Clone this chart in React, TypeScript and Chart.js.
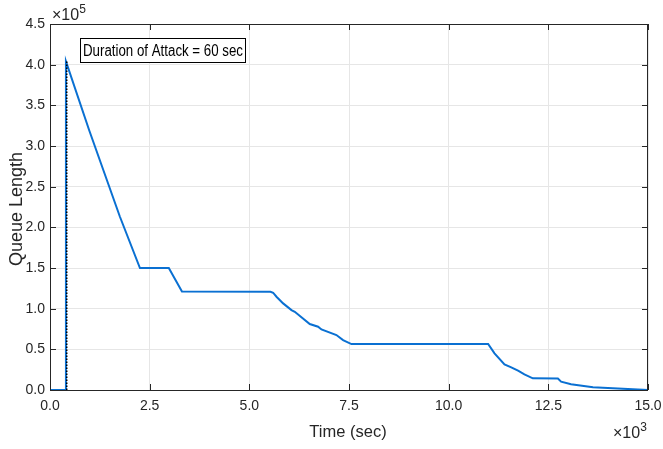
import React, { useEffect, useRef } from 'react';
import { Chart, registerables } from 'chart.js';

Chart.register(...registerables);

// Time (sec) and queue length
const timeSec = [0, 400, 400, 985, 1754, 2256, 2980, 3310, 5531, 5597, 5681, 5848, 6057, 6140, 6516, 6725, 6809, 7185, 7351, 7561, 10990, 11150, 11400, 11570, 11740, 11900, 12110, 12740, 12820, 13070, 13620, 14120, 15000];
const queueLen = [0, 0, 404000, 319000, 213000, 150000, 150000, 121000, 120800, 119600, 114700, 106500, 98300, 96200, 81100, 77800, 74500, 67600, 61400, 56500, 56500, 45100, 31600, 27900, 23700, 19300, 14400, 14000, 10200, 7000, 3300, 2100, 0];

// Attack marker (dotted)
const attackTime = [420, 420];
const attackQueue = [0, 404000];

const xTicks = [0, 2500, 5000, 7500, 10000, 12500, 15000];
const yTicks = [0, 50000, 100000, 150000, 200000, 250000, 300000, 350000, 400000, 450000];

const annotationText = 'Duration of Attack = 60 sec';
const xTitle = 'Time (sec)';
const yTitle = 'Queue Length';

const FONT = '"Liberation Sans", Arial, Helvetica, sans-serif';
const TEXT = '#262626';

const framePlugin = {
  id: 'matlabFrame',
  afterDraw(chart: any) {
    const { ctx, chartArea: a, scales } = chart;
    const xs = scales.x;
    const ys = scales.y;
    ctx.save();
    // box
    ctx.strokeStyle = TEXT;
    ctx.lineWidth = 1;
    ctx.strokeRect(Math.round(a.left) + 0.5, Math.round(a.top) + 0.5, Math.round(a.right - a.left) - 1, Math.round(a.bottom - a.top));
    // inward ticks
    const tl = 6;
    ctx.beginPath();
    xTicks.forEach((v) => {
      const px = Math.round(xs.getPixelForValue(v)) + 0.5;
      ctx.moveTo(px, a.bottom);
      ctx.lineTo(px, a.bottom - tl);
      ctx.moveTo(px, a.top);
      ctx.lineTo(px, a.top + tl);
    });
    yTicks.forEach((v) => {
      const py = Math.round(ys.getPixelForValue(v)) + 0.5;
      ctx.moveTo(a.left, py);
      ctx.lineTo(a.left + tl, py);
      ctx.moveTo(a.right, py);
      ctx.lineTo(a.right - tl, py);
    });
    ctx.stroke();

    // exponent labels
    ctx.fillStyle = TEXT;
    ctx.textBaseline = 'alphabetic';
    ctx.textAlign = 'left';
    const drawExp = (x: number, y: number, exp: string) => {
      ctx.font = `16px ${FONT}`;
      ctx.fillText('\u00d710', x, y);
      const w = ctx.measureText('\u00d710').width;
      ctx.font = `12px ${FONT}`;
      ctx.fillText(exp, x + w, y - 7);
    };
    drawExp(a.left + 2, a.top - 4, '5');
    drawExp(a.right - 35, a.bottom + 48, '3');

    // axis titles
    ctx.textAlign = 'center';
    ctx.textBaseline = 'alphabetic';
    ctx.font = `16.5px ${FONT}`;
    ctx.fillText(xTitle, (a.left + a.right) / 2 - 1, a.bottom + 47);
    ctx.save();
    ctx.font = `18px ${FONT}`;
    ctx.translate(22, (a.top + a.bottom) / 2 + 2);
    ctx.rotate(-Math.PI / 2);
    ctx.fillText(yTitle, 0, 0);
    ctx.restore();

    // annotation box
    const bx = Math.round(xs.getPixelForValue(750)) + 0.5;
    const by = Math.round(ys.getPixelForValue(433000)) + 0.5;
    const bw = 165;
    const bh = 24;
    ctx.fillStyle = '#ffffff';
    ctx.fillRect(bx, by, bw, bh);
    ctx.strokeStyle = '#000000';
    ctx.strokeRect(bx, by, bw, bh);
    ctx.fillStyle = '#000000';
    ctx.font = `16px ${FONT}`;
    const tw = ctx.measureText(annotationText).width;
    const sx = 160 / tw;
    ctx.save();
    ctx.translate(bx + 2.5, by + bh / 2 + 1);
    ctx.scale(sx, 1);
    ctx.textAlign = 'left';
    ctx.textBaseline = 'middle';
    ctx.fillText(annotationText, 0, 0);
    ctx.restore();
    ctx.restore();
  },
};

export default function App() {
  const ref = useRef<HTMLCanvasElement | null>(null);
  useEffect(() => {
    if (!ref.current) return;
    const chart = new Chart(ref.current, {
      type: 'line',
      data: {
        datasets: [
          {
            label: 'Queue',
            data: timeSec.map((t, i) => ({ x: t, y: queueLen[i] })),
            borderColor: '#0a70d2',
            borderWidth: 2,
            pointRadius: 0,
            tension: 0,
            fill: false,
            order: 1,
          },
          {
            label: 'Attack',
            data: attackTime.map((t, i) => ({ x: t, y: attackQueue[i] })),
            borderColor: '#000000',
            borderWidth: 1.5,
            borderDash: [1.5, 1.5],
            pointRadius: 0,
            fill: false,
            order: 0,
          },
        ],
      },
      options: {
        animation: false,
        responsive: false,
        maintainAspectRatio: false,
        layout: { padding: { left: 0, right: 15, top: 24, bottom: 0 } },
        plugins: { legend: { display: false }, tooltip: { enabled: false } },
        scales: {
          x: {
            type: 'linear',
            min: 0,
            max: 15000,
            afterFit: (s: any) => { s.height = 59; s.paddingLeft = 0; s.paddingRight = 0; },
            afterBuildTicks: (s: any) => { s.ticks = xTicks.map((v) => ({ value: v })); },
            ticks: {
              callback: (v: any) => (Number(v) / 1000).toFixed(1),
              font: { size: 14, family: FONT },
              color: TEXT,
              padding: 8,
              maxRotation: 0,
              autoSkip: false,
            },
            grid: { color: '#e6e6e6', drawTicks: false, lineWidth: 1 },
            border: { display: false },
          },
          y: {
            type: 'linear',
            min: 0,
            max: 450000,
            afterFit: (s: any) => { s.width = 50; s.paddingTop = 0; s.paddingBottom = 0; },
            afterBuildTicks: (s: any) => { s.ticks = yTicks.map((v) => ({ value: v })); },
            ticks: {
              callback: (v: any) => (Number(v) / 100000).toFixed(1),
              font: { size: 14, family: FONT },
              color: TEXT,
              padding: 5,
              autoSkip: false,
            },
            grid: { color: '#e6e6e6', drawTicks: false, lineWidth: 1 },
            border: { display: false },
          },
        },
      },
      plugins: [framePlugin],
    });
    return () => chart.destroy();
  }, []);
  return (
    <div style={{ position: 'absolute', left: 0, top: 0, width: 663, height: 449, background: '#fff' }}>
      <canvas ref={ref} width={663} height={449} style={{ display: 'block' }} />
    </div>
  );
}
